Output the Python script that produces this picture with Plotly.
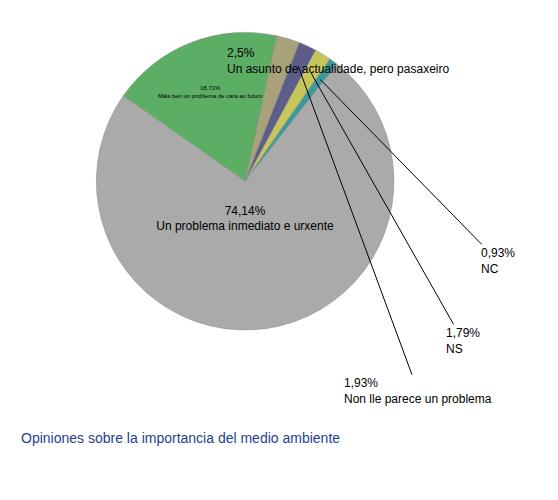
import math
import plotly.graph_objects as go

labels = ["Máis ben un problema de cara ao futuro", "Un asunto de actualidade, pero pasaxeiro",
          "Non lle parece un problema", "NS", "NC", "Un problema inmediato e urxente"]
values = [18.71, 2.5, 1.93, 1.79, 0.93, 74.14]
value_text = ["18,71%", "2,5%", "1,93%", "1,79%", "0,93%", "74,14%"]
colors = ["#5BAE64", "#A8A27A", "#5D5D8A", "#C6C65A", "#3D9A9A", "#AAAAAA"]
inside = [True, False, False, False, False, True]
# label text centre (pixels from top-left) for the small slices
label_pos = {1: (330, 53), 2: (410, 383), 3: (455, 333), 4: (490, 253)}

W, H, MT, MB = 558, 500, 10, 10
dom_x, dom_y = [0.15, 0.70], [0.35, 0.97]
rotation = -55

fig = go.Figure(go.Pie(
    labels=labels, values=values, sort=False, direction="clockwise", rotation=rotation,
    text=[f"{v}<br>{l}" if i else "" for v, l, i in zip(value_text, labels, inside)],
    textinfo="text", textposition="inside", insidetextorientation="horizontal",
    insidetextfont=dict(color="black", size=12),
    marker=dict(colors=colors, line=dict(color="#888888", width=0.5)),
    showlegend=False, domain=dict(x=dom_x, y=dom_y), hoverinfo="label+percent",
))

ph = H - MT - MB
cx = (dom_x[0] + dom_x[1]) / 2 * W
cy_up = MB + (dom_y[0] + dom_y[1]) / 2 * ph
r = min((dom_x[1] - dom_x[0]) * W, (dom_y[1] - dom_y[0]) * ph) / 2
total = sum(values)
cum = 0
for i, v in enumerate(values):
    mid = rotation + (cum + v / 2) / total * 360
    cum += v
    if i not in label_pos:
        continue
    tx = cx + 0.85 * r * math.sin(math.radians(mid))
    ty_up = cy_up + 0.85 * r * math.cos(math.radians(mid))
    ty_down = H - ty_up
    lx, ly = label_pos[i]
    fig.add_annotation(
        x=(tx) / W, y=(ty_up - MB) / ph, xref="paper", yref="paper",
        text=f"{value_text[i]}<br>{labels[i]}", align="left",
        ax=lx - tx, ay=ly - ty_down, showarrow=True, arrowhead=0, arrowwidth=1,
        arrowcolor="black", font=dict(size=12, color="black"))

fig.add_annotation(text="Opiniones sobre la importancia del medio ambiente", x=0.02, y=0.105,
                   xref="paper", yref="paper", xanchor="left", showarrow=False,
                   font=dict(color="#1F3F8F", size=14))
fig.update_layout(width=W, height=H, margin=dict(l=0, r=0, t=MT, b=MB),
                  paper_bgcolor="white", font=dict(family="Arial, Liberation Sans", size=12))
fig.write_html("out.html")
